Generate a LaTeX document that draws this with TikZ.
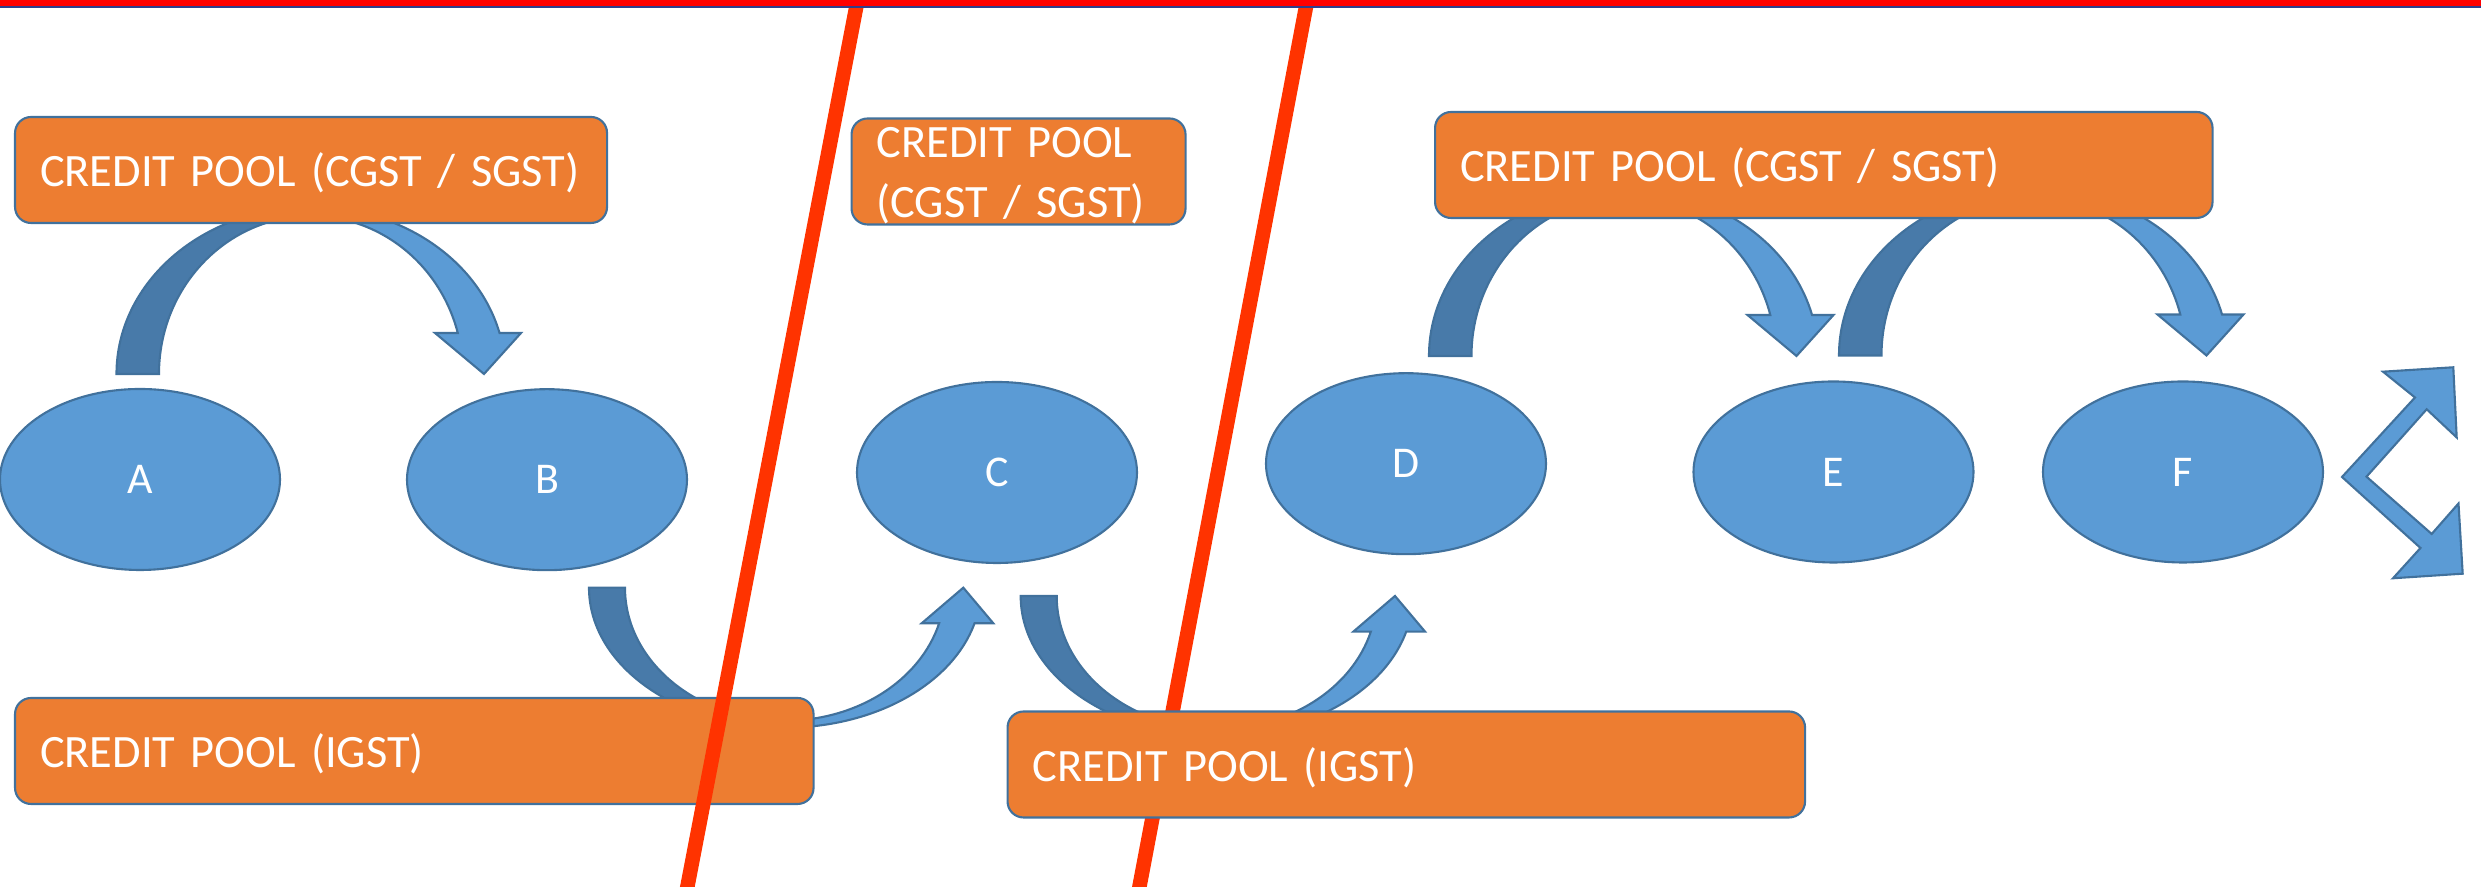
\documentclass[tikz,border=0pt]{standalone}
\usepackage{fontspec}
\setmainfont{Carlito}
\definecolor{PoolOrange}{RGB}{237,125,49}
\definecolor{EdgeBlue}  {RGB}{65,113,156}
\definecolor{FirmBlue}  {RGB}{91,155,213}
\definecolor{BackBlue}  {RGB}{72,122,169}
\definecolor{CutRed}    {RGB}{255,51,0}
\definecolor{TopRed}    {RGB}{255,0,0}
\definecolor{TopNavy}   {RGB}{47,62,140}
\usetikzlibrary{shapes.geometric}

\begin{document}
\begin{tikzpicture}[
    pool/.style={draw=EdgeBlue,fill=PoolOrange,line width=0.6pt,rounded corners=0.16cm,
      anchor=west,minimum height=1.06cm,inner xsep=0.25cm,inner ysep=0pt,align=left,
      text height=0.35cm,text depth=0.01cm,
      text=white,font=\fontsize{13.2}{16.8}\selectfont},
    firm/.style={ellipse,draw=EdgeBlue,fill=FirmBlue,line width=0.6pt,
      minimum width=2.8cm,minimum height=1.81cm,inner sep=0pt,
      text=white,font=\fontsize{12.5}{15}\selectfont},
    backarc/.style={draw=EdgeBlue,fill=BackBlue,line width=0.6pt},
    frontarc/.style={draw=EdgeBlue,fill=FirmBlue,line width=0.6pt,line join=miter}]
  \useasboundingbox (0,0) rectangle (24.81,8.87);

  \foreach \cx/\cy in {3.11/5.13,16.235/5.31,20.335/5.315}{
    \begin{scope}[shift={(\cx,\cy)}]
      \filldraw[backarc] (-1.945,0) arc[start angle=180,end angle=90,x radius=1.945,y radius=1.67]
        -- (0,1.58) arc[start angle=90,end angle=180,x radius=1.52,y radius=1.58] -- cycle;
      \filldraw[frontarc] (0,1.67) arc[start angle=90,end angle=14.21,x radius=1.945,y radius=1.67]
        -- (2.10,0.41) -- (1.73,0) -- (1.24,0.41) -- (15.04:1.52 and 1.58)
        arc[start angle=15.04,end angle=90,x radius=1.52,y radius=1.58] -- cycle;
    \end{scope}
  }
  \foreach \cx/\cy in {7.85/2.993,12.167/2.91}{
    \begin{scope}[shift={(\cx,\cy)}]
      \filldraw[backarc] (-1.96,0) arc[start angle=180,end angle=270,x radius=1.96,y radius=1.40]
        -- (0,-1.33) arc[start angle=270,end angle=180,x radius=1.60,y radius=1.33] -- cycle;
      \filldraw[frontarc] (0,-1.40) arc[start angle=270,end angle=345.27,x radius=1.96,y radius=1.40]
        -- (2.083,-0.356) -- (1.783,0) -- (1.367,-0.356) -- (344.47:1.60 and 1.33)
        arc[start angle=344.47,end angle=270,x radius=1.60,y radius=1.33] -- cycle;
    \end{scope}
  }

  \draw[CutRed,line width=0.145cm] (13.073,8.87) -- (11.375,-0.1);

  \foreach \n/\x/\y in {A/1.40/4.075,B/5.47/4.073,C/9.97/4.145,D/14.06/4.233,E/18.335/4.15,F/21.83/4.15}
    \node[firm] (\n) at (\x,\y) {\n};

  \filldraw[frontarc] (23.42,4.10) -- (24.15,4.895) -- (23.83,5.153) -- (24.533,5.197) -- (24.567,4.495)
    -- (24.267,4.777) -- (23.665,4.103) -- (24.317,3.53) -- (24.585,3.835) -- (24.627,3.133)
    -- (23.93,3.087) -- (24.205,3.39) -- cycle;

  \node[pool,text width=5.42cm] (cs1) at (0.14,7.17) {CREDIT POOL (CGST / SGST)};
  \node[pool,text width=2.84cm,text height=0.35cm,text depth=0.62cm] (cs2) at (8.505,7.155)
    {CREDIT POOL\\(CGST / SGST)};
  \node[pool,text width=7.275cm] (cs3) at (14.34,7.22) {CREDIT POOL (CGST / SGST)};
  \node[pool,text width=7.485cm] (ig1) at (0.14,1.36) {CREDIT POOL (IGST)};
  \node[pool,text width=7.475cm] (ig2) at (10.065,1.225) {CREDIT POOL (IGST)};

  \draw[CutRed,line width=0.145cm] (8.576,8.87) -- (6.854,-0.1);

  \fill[TopRed] (0,8.81) rectangle (24.81,8.87);
  \draw[TopNavy,line width=0.02cm] (0,8.80) -- (24.81,8.80);
\end{tikzpicture}
\end{document}
